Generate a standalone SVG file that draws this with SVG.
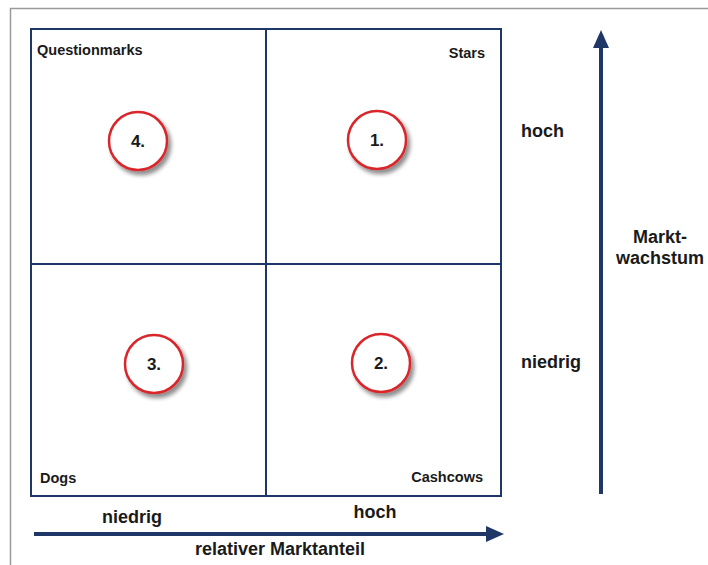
<svg xmlns="http://www.w3.org/2000/svg" width="708" height="565" viewBox="0 0 708 565">
<style>
text{font-family:"Liberation Sans",Arial,sans-serif;font-weight:bold;fill:#1a1a1a}
.lbl{font-size:14.5px}
.ax{font-size:18px}
.num{font-size:17px;text-anchor:middle}
.grid{stroke:#1f3766;stroke-width:2;fill:none}
.circ{fill:#fff;stroke:#d9262b;stroke-width:2.5}
.arrow{stroke:#1f3766;stroke-width:4;fill:none}
</style>
<defs>
<filter id="sh" x="-50%" y="-50%" width="200%" height="200%">
<feGaussianBlur in="SourceAlpha" stdDeviation="2"/>
<feOffset dx="3" dy="4" result="b"/>
<feComponentTransfer><feFuncA type="linear" slope="0.45"/></feComponentTransfer>
<feMerge><feMergeNode/><feMergeNode in="SourceGraphic"/></feMerge>
</filter>
</defs>
<rect width="708" height="565" fill="#fff"/>
<path d="M10.5 565V8.5H708" stroke="#9a9a9a" stroke-width="1.5" fill="none"/>
<g id="matrix">
<rect class="grid" x="31" y="29" width="470" height="467"/>
<line class="grid" x1="266" y1="29" x2="266" y2="496"/>
<line class="grid" x1="31" y1="264" x2="501" y2="264"/>
</g>
<g id="q-questionmarks">
<text class="lbl" x="37" y="55">Questionmarks</text>
<circle class="circ" cx="138" cy="141" r="29" filter="url(#sh)"/>
<text class="num" x="138" y="147">4.</text>
</g>
<g id="q-stars">
<text class="lbl" x="485" y="58" text-anchor="end">Stars</text>
<circle class="circ" cx="377" cy="140" r="29" filter="url(#sh)"/>
<text class="num" x="377" y="146">1.</text>
</g>
<g id="q-dogs">
<text class="lbl" x="40" y="483">Dogs</text>
<circle class="circ" cx="154" cy="364" r="29" filter="url(#sh)"/>
<text class="num" x="154" y="370">3.</text>
</g>
<g id="q-cashcows">
<text class="lbl" x="483" y="482" text-anchor="end">Cashcows</text>
<circle class="circ" cx="381" cy="363" r="29" filter="url(#sh)"/>
<text class="num" x="381" y="369">2.</text>
</g>
<g id="connectors">
<line class="arrow" x1="601" y1="494" x2="601" y2="46"/>
<polygon points="601,30 593,48 609,48" fill="#1f3766"/>
<line class="arrow" x1="34" y1="534" x2="488" y2="534"/>
<polygon points="504,534 486,526 486,542" fill="#1f3766"/>
</g>
<g id="axis-labels">
<text class="ax" x="521" y="137">hoch</text>
<text class="ax" x="521" y="368">niedrig</text>
<text class="ax" x="660" y="243" text-anchor="middle">Markt-</text>
<text class="ax" x="660" y="264" text-anchor="middle">wachstum</text>
<text class="ax" x="132" y="523" text-anchor="middle">niedrig</text>
<text class="ax" x="375" y="518" text-anchor="middle">hoch</text>
<text class="ax" x="280" y="555" text-anchor="middle">relativer Marktanteil</text>
</g>
</svg>
